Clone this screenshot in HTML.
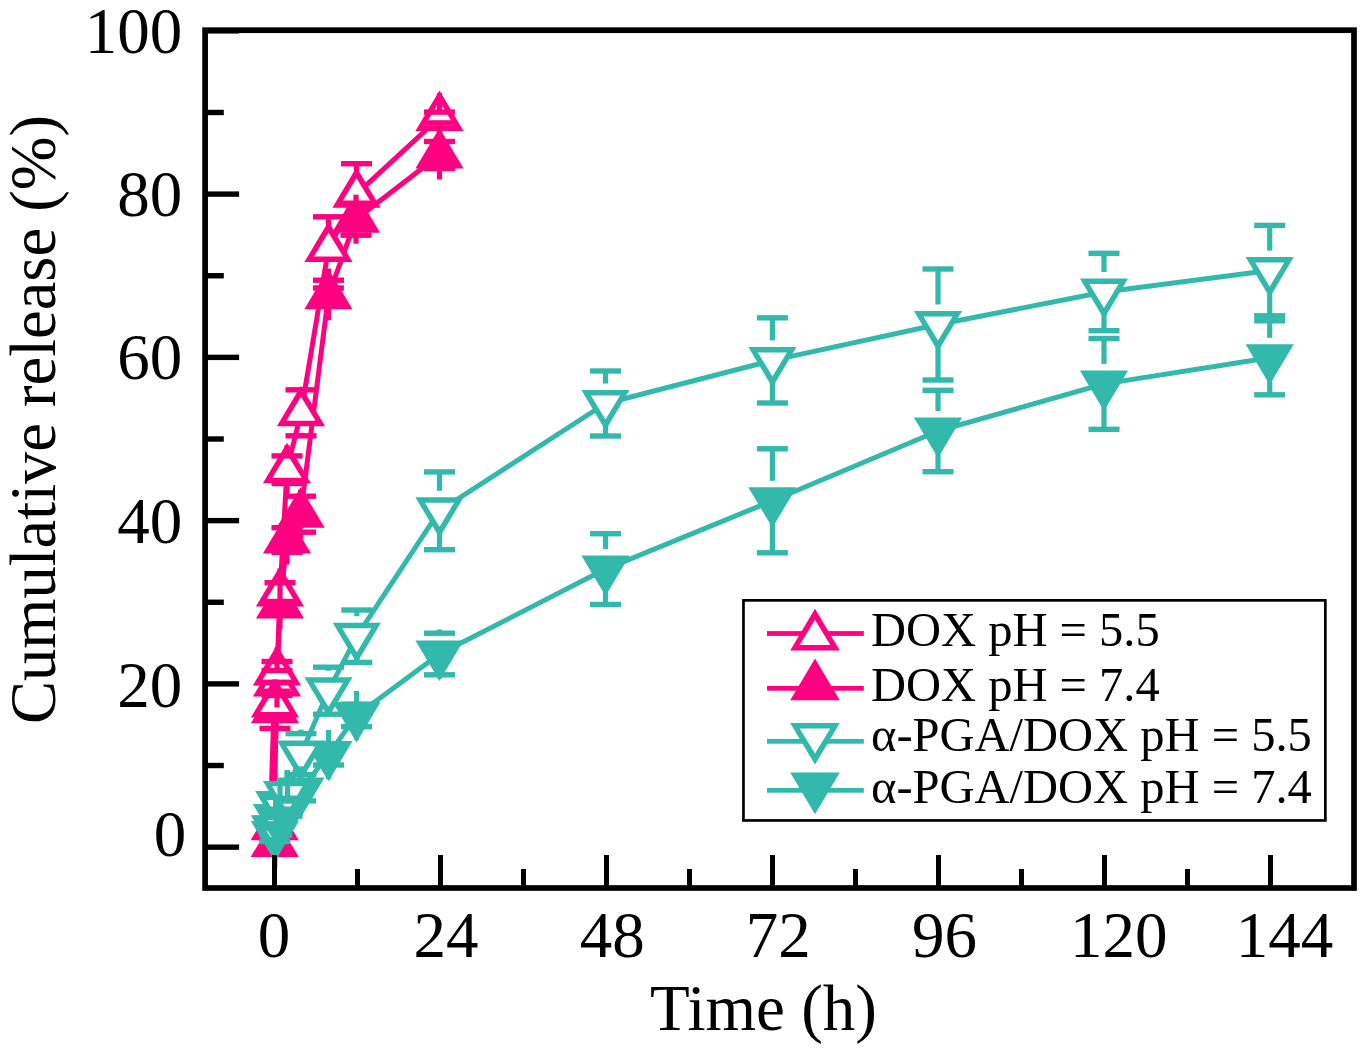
<!DOCTYPE html>
<html><head><meta charset="utf-8"><title>Cumulative release</title>
<style>
html,body{margin:0;padding:0;background:#fff;}
svg{display:block;}
text{font-family:"Liberation Serif",serif;fill:#000;}
</style></head>
<body>
<svg width="1367" height="1053" viewBox="0 0 1367 1053">
<rect width="1367" height="1053" fill="#fff"/>
<g id="data">
<polyline points="274.70,826.80 275.00,703.90 277.00,671.90 280.00,593.00 287.00,469.70 301.00,412.80 328.50,248.50 356.50,194.20 439.50,117.50" fill="none" stroke="#FF0080" stroke-width="5.0" stroke-linejoin="round" stroke-linecap="butt"/>
<polyline points="274.70,843.60 275.00,709.80 277.00,683.00 280.00,605.00 287.00,540.00 300.60,514.20 328.40,295.80 356.00,219.20 439.50,155.00" fill="none" stroke="#FF0080" stroke-width="5.0" stroke-linejoin="round" stroke-linecap="butt"/>
<polygon points="271.0,722 279.0,722 276.0,800 268.6,800" fill="#FF0080"/>
<path d="M274.70,816.60L298.80,857.10L250.60,857.10Z" fill="#FF0080"/>
<path d="M275.00,682.80L299.10,723.30L250.90,723.30Z" fill="#FF0080"/><path d="M275.00,693.80L289.57,717.80L260.43,717.80Z" fill="#fff"/>
<path d="M277.00,656.00L301.10,696.50L252.90,696.50Z" fill="#FF0080"/><path d="M277.00,667.00L291.57,691.00L262.43,691.00Z" fill="#fff"/>
<path d="M280.00,578.00L304.10,618.50L255.90,618.50Z" fill="#FF0080"/>
<path d="M287.00,513.00L311.10,553.50L262.90,553.50Z" fill="#FF0080"/>
<path d="M300.60,487.20L324.70,527.70L276.50,527.70Z" fill="#FF0080"/>
<path d="M328.40,268.80L352.50,309.30L304.30,309.30Z" fill="#FF0080"/>
<path d="M356.00,192.20L380.10,232.70L331.90,232.70Z" fill="#FF0080"/>
<path d="M439.50,128.00L463.60,168.50L415.40,168.50Z" fill="#FF0080"/>
<path d="M274.70,799.80L298.80,840.30L250.60,840.30Z" fill="#FF0080"/><path d="M274.70,810.80L289.27,834.80L260.13,834.80Z" fill="#fff"/>
<path d="M275.00,676.90L299.10,717.40L250.90,717.40Z" fill="#FF0080"/><path d="M275.00,687.90L289.57,711.90L260.43,711.90Z" fill="#fff"/>
<path d="M277.00,644.90L301.10,685.40L252.90,685.40Z" fill="#FF0080"/><path d="M277.00,655.90L291.57,679.90L262.43,679.90Z" fill="#fff"/>
<path d="M280.00,566.00L304.10,606.50L255.90,606.50Z" fill="#FF0080"/><path d="M280.00,577.00L294.57,601.00L265.43,601.00Z" fill="#fff"/>
<path d="M287.00,442.70L311.10,483.20L262.90,483.20Z" fill="#FF0080"/><path d="M287.00,453.70L301.57,477.70L272.43,477.70Z" fill="#fff"/>
<path d="M301.00,385.80L325.10,426.30L276.90,426.30Z" fill="#FF0080"/><path d="M301.00,396.80L315.57,420.80L286.43,420.80Z" fill="#fff"/>
<path d="M328.50,221.50L352.60,262.00L304.40,262.00Z" fill="#FF0080"/><path d="M328.50,232.50L343.07,256.50L313.93,256.50Z" fill="#fff"/>
<path d="M356.50,167.20L380.60,207.70L332.40,207.70Z" fill="#FF0080"/><path d="M356.50,178.20L371.07,202.20L341.93,202.20Z" fill="#fff"/>
<path d="M439.50,90.50L463.60,131.00L415.40,131.00Z" fill="#FF0080"/><path d="M439.50,101.50L454.07,125.50L424.93,125.50Z" fill="#fff"/>
<rect x="272.10" y="802.30" width="5.2" height="16.50" fill="#FF0080"/><rect x="259.20" y="816.10" width="31" height="5.4" fill="#FF0080"/><rect x="272.10" y="834.80" width="5.2" height="16.50" fill="#FF0080"/><rect x="259.20" y="832.10" width="31" height="5.4" fill="#FF0080"/>
<rect x="272.40" y="679.40" width="5.2" height="12.50" fill="#FF0080"/><rect x="259.50" y="689.20" width="31" height="5.4" fill="#FF0080"/><rect x="272.40" y="715.90" width="5.2" height="12.50" fill="#FF0080"/><rect x="259.50" y="713.20" width="31" height="5.4" fill="#FF0080"/>
<rect x="274.40" y="647.40" width="5.2" height="14.10" fill="#FF0080"/><rect x="261.50" y="658.80" width="31" height="5.4" fill="#FF0080"/><rect x="274.40" y="682.30" width="5.2" height="14.10" fill="#FF0080"/><rect x="261.50" y="679.60" width="31" height="5.4" fill="#FF0080"/>
<rect x="277.40" y="568.50" width="5.2" height="14.20" fill="#FF0080"/><rect x="264.50" y="580.00" width="31" height="5.4" fill="#FF0080"/><rect x="277.40" y="603.30" width="5.2" height="14.20" fill="#FF0080"/><rect x="264.50" y="600.60" width="31" height="5.4" fill="#FF0080"/>
<rect x="284.40" y="445.20" width="5.2" height="10.70" fill="#FF0080"/><rect x="271.50" y="453.20" width="31" height="5.4" fill="#FF0080"/><rect x="284.40" y="483.50" width="5.2" height="10.70" fill="#FF0080"/><rect x="271.50" y="480.80" width="31" height="5.4" fill="#FF0080"/>
<rect x="298.40" y="388.30" width="5.2" height="4.50" fill="#FF0080"/><rect x="285.50" y="387.10" width="31" height="5.4" fill="#FF0080"/><rect x="298.40" y="432.80" width="5.2" height="4.50" fill="#FF0080"/><rect x="285.50" y="433.10" width="31" height="5.4" fill="#FF0080"/>
<rect x="325.90" y="216.80" width="5.2" height="11.70" fill="#FF0080"/><rect x="313.00" y="214.10" width="31" height="5.4" fill="#FF0080"/><rect x="325.90" y="268.50" width="5.2" height="11.70" fill="#FF0080"/><rect x="313.00" y="277.50" width="31" height="5.4" fill="#FF0080"/>
<rect x="353.90" y="163.70" width="5.2" height="10.50" fill="#FF0080"/><rect x="341.00" y="161.00" width="31" height="5.4" fill="#FF0080"/><rect x="353.90" y="214.20" width="5.2" height="10.50" fill="#FF0080"/><rect x="341.00" y="222.00" width="31" height="5.4" fill="#FF0080"/>
<rect x="436.90" y="93.00" width="5.2" height="19.10" fill="#FF0080"/><rect x="424.00" y="109.40" width="31" height="5.4" fill="#FF0080"/><rect x="436.90" y="122.90" width="5.2" height="19.10" fill="#FF0080"/><rect x="424.00" y="120.20" width="31" height="5.4" fill="#FF0080"/>
<rect x="272.10" y="819.10" width="5.2" height="19.50" fill="#FF0080"/><rect x="259.20" y="835.90" width="31" height="5.4" fill="#FF0080"/><rect x="272.10" y="848.60" width="5.2" height="19.50" fill="#FF0080"/><rect x="259.20" y="845.90" width="31" height="5.4" fill="#FF0080"/>
<rect x="272.40" y="685.30" width="5.2" height="5.90" fill="#FF0080"/><rect x="259.50" y="688.50" width="31" height="5.4" fill="#FF0080"/><rect x="272.40" y="728.40" width="5.2" height="5.90" fill="#FF0080"/><rect x="259.50" y="725.70" width="31" height="5.4" fill="#FF0080"/>
<rect x="274.40" y="658.50" width="5.2" height="12.00" fill="#FF0080"/><rect x="261.50" y="667.80" width="31" height="5.4" fill="#FF0080"/><rect x="274.40" y="695.50" width="5.2" height="12.00" fill="#FF0080"/><rect x="261.50" y="692.80" width="31" height="5.4" fill="#FF0080"/>
<rect x="277.40" y="580.50" width="5.2" height="21.00" fill="#FF0080"/><rect x="264.50" y="598.80" width="31" height="5.4" fill="#FF0080"/><rect x="277.40" y="608.50" width="5.2" height="21.00" fill="#FF0080"/><rect x="264.50" y="605.80" width="31" height="5.4" fill="#FF0080"/>
<rect x="284.40" y="515.50" width="5.2" height="12.20" fill="#FF0080"/><rect x="271.50" y="525.00" width="31" height="5.4" fill="#FF0080"/><rect x="284.40" y="552.30" width="5.2" height="12.20" fill="#FF0080"/><rect x="271.50" y="549.60" width="31" height="5.4" fill="#FF0080"/>
<rect x="298.00" y="489.70" width="5.2" height="6.50" fill="#FF0080"/><rect x="285.10" y="493.50" width="31" height="5.4" fill="#FF0080"/><rect x="298.00" y="532.20" width="5.2" height="6.50" fill="#FF0080"/><rect x="285.10" y="529.50" width="31" height="5.4" fill="#FF0080"/>
<rect x="325.80" y="271.30" width="5.2" height="16.70" fill="#FF0080"/><rect x="312.90" y="285.30" width="31" height="5.4" fill="#FF0080"/><rect x="325.80" y="303.60" width="5.2" height="16.70" fill="#FF0080"/><rect x="312.90" y="300.90" width="31" height="5.4" fill="#FF0080"/>
<rect x="353.40" y="194.70" width="5.2" height="8.50" fill="#FF0080"/><rect x="340.50" y="200.50" width="31" height="5.4" fill="#FF0080"/><rect x="353.40" y="235.20" width="5.2" height="8.50" fill="#FF0080"/><rect x="340.50" y="232.50" width="31" height="5.4" fill="#FF0080"/>
<rect x="436.90" y="130.50" width="5.2" height="11.00" fill="#FF0080"/><rect x="424.00" y="138.80" width="31" height="5.4" fill="#FF0080"/><rect x="436.90" y="168.50" width="5.2" height="11.00" fill="#FF0080"/><rect x="424.00" y="165.80" width="31" height="5.4" fill="#FF0080"/>
<polyline points="274.90,828.80 276.80,817.40 279.20,804.60 287.00,794.60 301.00,754.10 328.50,690.70 356.80,636.20 439.50,510.80 605.50,403.50 772.40,360.40 938.00,324.50 1104.00,292.00 1269.70,270.60" fill="none" stroke="#33B9AB" stroke-width="5.0" stroke-linejoin="round" stroke-linecap="butt"/>
<polyline points="274.90,834.50 276.80,829.00 279.20,820.00 287.00,808.40 300.50,790.90 328.50,754.50 356.50,715.40 439.50,654.00 605.50,569.10 772.40,500.80 938.00,431.00 1104.00,383.90 1269.70,357.80" fill="none" stroke="#33B9AB" stroke-width="5.0" stroke-linejoin="round" stroke-linecap="butt"/>
<path d="M274.90,861.50L299.00,821.00L250.80,821.00Z" fill="#33B9AB"/>
<path d="M276.80,856.00L300.90,815.50L252.70,815.50Z" fill="#33B9AB"/>
<path d="M279.20,847.00L303.30,806.50L255.10,806.50Z" fill="#33B9AB"/>
<path d="M287.00,835.40L311.10,794.90L262.90,794.90Z" fill="#33B9AB"/>
<path d="M300.50,817.90L324.60,777.40L276.40,777.40Z" fill="#33B9AB"/>
<path d="M328.50,781.50L352.60,741.00L304.40,741.00Z" fill="#33B9AB"/>
<path d="M356.50,742.40L380.60,701.90L332.40,701.90Z" fill="#33B9AB"/>
<path d="M439.50,681.00L463.60,640.50L415.40,640.50Z" fill="#33B9AB"/>
<path d="M605.50,596.10L629.60,555.60L581.40,555.60Z" fill="#33B9AB"/>
<path d="M772.40,527.80L796.50,487.30L748.30,487.30Z" fill="#33B9AB"/>
<path d="M938.00,458.00L962.10,417.50L913.90,417.50Z" fill="#33B9AB"/>
<path d="M1104.00,410.90L1128.10,370.40L1079.90,370.40Z" fill="#33B9AB"/>
<path d="M1269.70,384.80L1293.80,344.30L1245.60,344.30Z" fill="#33B9AB"/>
<path d="M274.90,855.80L299.00,815.30L250.80,815.30Z" fill="#33B9AB"/>
<path d="M276.80,844.40L300.90,803.90L252.70,803.90Z" fill="#33B9AB"/>
<path d="M279.20,831.60L303.30,791.10L255.10,791.10Z" fill="#33B9AB"/>
<path d="M287.00,821.60L311.10,781.10L262.90,781.10Z" fill="#33B9AB"/>
<path d="M301.00,781.10L325.10,740.60L276.90,740.60Z" fill="#33B9AB"/><path d="M301.00,770.10L315.57,746.10L286.43,746.10Z" fill="#fff"/>
<path d="M328.50,717.70L352.60,677.20L304.40,677.20Z" fill="#33B9AB"/><path d="M328.50,706.70L343.07,682.70L313.93,682.70Z" fill="#fff"/>
<path d="M356.80,663.20L380.90,622.70L332.70,622.70Z" fill="#33B9AB"/><path d="M356.80,652.20L371.37,628.20L342.23,628.20Z" fill="#fff"/>
<path d="M439.50,537.80L463.60,497.30L415.40,497.30Z" fill="#33B9AB"/><path d="M439.50,526.80L454.07,502.80L424.93,502.80Z" fill="#fff"/>
<path d="M605.50,430.50L629.60,390.00L581.40,390.00Z" fill="#33B9AB"/><path d="M605.50,419.50L620.07,395.50L590.93,395.50Z" fill="#fff"/>
<path d="M772.40,387.40L796.50,346.90L748.30,346.90Z" fill="#33B9AB"/><path d="M772.40,376.40L786.97,352.40L757.83,352.40Z" fill="#fff"/>
<path d="M938.00,351.50L962.10,311.00L913.90,311.00Z" fill="#33B9AB"/><path d="M938.00,340.50L952.57,316.50L923.43,316.50Z" fill="#fff"/>
<path d="M1104.00,319.00L1128.10,278.50L1079.90,278.50Z" fill="#33B9AB"/><path d="M1104.00,308.00L1118.57,284.00L1089.43,284.00Z" fill="#fff"/>
<path d="M1269.70,297.60L1293.80,257.10L1245.60,257.10Z" fill="#33B9AB"/><path d="M1269.70,286.60L1284.27,262.60L1255.13,262.60Z" fill="#fff"/>
<rect x="272.30" y="804.30" width="5.2" height="18.50" fill="#33B9AB"/><rect x="259.40" y="820.10" width="31" height="5.4" fill="#33B9AB"/><rect x="272.30" y="834.80" width="5.2" height="18.50" fill="#33B9AB"/><rect x="259.40" y="832.10" width="31" height="5.4" fill="#33B9AB"/>
<rect x="274.20" y="792.90" width="5.2" height="18.50" fill="#33B9AB"/><rect x="261.30" y="808.70" width="31" height="5.4" fill="#33B9AB"/><rect x="274.20" y="823.40" width="5.2" height="18.50" fill="#33B9AB"/><rect x="261.30" y="820.70" width="31" height="5.4" fill="#33B9AB"/>
<rect x="276.60" y="780.10" width="5.2" height="18.50" fill="#33B9AB"/><rect x="263.70" y="795.90" width="31" height="5.4" fill="#33B9AB"/><rect x="276.60" y="810.60" width="5.2" height="18.50" fill="#33B9AB"/><rect x="263.70" y="807.90" width="31" height="5.4" fill="#33B9AB"/>
<rect x="284.40" y="770.10" width="5.2" height="16.50" fill="#33B9AB"/><rect x="271.50" y="783.90" width="31" height="5.4" fill="#33B9AB"/><rect x="284.40" y="802.60" width="5.2" height="16.50" fill="#33B9AB"/><rect x="271.50" y="799.90" width="31" height="5.4" fill="#33B9AB"/>
<rect x="298.40" y="729.60" width="5.2" height="4.50" fill="#33B9AB"/><rect x="285.50" y="730.90" width="31" height="5.4" fill="#33B9AB"/><rect x="298.40" y="774.10" width="5.2" height="4.50" fill="#33B9AB"/><rect x="285.50" y="771.90" width="31" height="5.4" fill="#33B9AB"/>
<rect x="325.90" y="666.20" width="5.2" height="4.50" fill="#33B9AB"/><rect x="313.00" y="664.50" width="31" height="5.4" fill="#33B9AB"/><rect x="325.90" y="710.70" width="5.2" height="4.50" fill="#33B9AB"/><rect x="313.00" y="711.50" width="31" height="5.4" fill="#33B9AB"/>
<rect x="354.20" y="610.00" width="5.2" height="6.20" fill="#33B9AB"/><rect x="341.30" y="607.30" width="31" height="5.4" fill="#33B9AB"/><rect x="354.20" y="656.20" width="5.2" height="6.20" fill="#33B9AB"/><rect x="341.30" y="659.70" width="31" height="5.4" fill="#33B9AB"/>
<rect x="436.90" y="471.90" width="5.2" height="18.90" fill="#33B9AB"/><rect x="424.00" y="469.20" width="31" height="5.4" fill="#33B9AB"/><rect x="436.90" y="530.80" width="5.2" height="18.90" fill="#33B9AB"/><rect x="424.00" y="547.00" width="31" height="5.4" fill="#33B9AB"/>
<rect x="602.90" y="371.00" width="5.2" height="12.50" fill="#33B9AB"/><rect x="590.00" y="368.30" width="31" height="5.4" fill="#33B9AB"/><rect x="602.90" y="423.50" width="5.2" height="12.50" fill="#33B9AB"/><rect x="590.00" y="433.30" width="31" height="5.4" fill="#33B9AB"/>
<rect x="769.80" y="317.80" width="5.2" height="22.60" fill="#33B9AB"/><rect x="756.90" y="315.10" width="31" height="5.4" fill="#33B9AB"/><rect x="769.80" y="380.40" width="5.2" height="22.60" fill="#33B9AB"/><rect x="756.90" y="400.30" width="31" height="5.4" fill="#33B9AB"/>
<rect x="935.40" y="269.00" width="5.2" height="35.50" fill="#33B9AB"/><rect x="922.50" y="266.30" width="31" height="5.4" fill="#33B9AB"/><rect x="935.40" y="344.50" width="5.2" height="35.50" fill="#33B9AB"/><rect x="922.50" y="377.30" width="31" height="5.4" fill="#33B9AB"/>
<rect x="1101.40" y="253.30" width="5.2" height="18.70" fill="#33B9AB"/><rect x="1088.50" y="250.60" width="31" height="5.4" fill="#33B9AB"/><rect x="1101.40" y="312.00" width="5.2" height="18.70" fill="#33B9AB"/><rect x="1088.50" y="328.00" width="31" height="5.4" fill="#33B9AB"/>
<rect x="1267.10" y="225.40" width="5.2" height="25.20" fill="#33B9AB"/><rect x="1254.20" y="222.70" width="31" height="5.4" fill="#33B9AB"/><rect x="1267.10" y="290.60" width="5.2" height="25.20" fill="#33B9AB"/><rect x="1254.20" y="313.10" width="31" height="5.4" fill="#33B9AB"/>
<rect x="272.30" y="810.00" width="5.2" height="17.50" fill="#33B9AB"/><rect x="259.40" y="824.80" width="31" height="5.4" fill="#33B9AB"/><rect x="272.30" y="841.50" width="5.2" height="17.50" fill="#33B9AB"/><rect x="259.40" y="838.80" width="31" height="5.4" fill="#33B9AB"/>
<rect x="274.20" y="804.50" width="5.2" height="18.50" fill="#33B9AB"/><rect x="261.30" y="820.30" width="31" height="5.4" fill="#33B9AB"/><rect x="274.20" y="835.00" width="5.2" height="18.50" fill="#33B9AB"/><rect x="261.30" y="832.30" width="31" height="5.4" fill="#33B9AB"/>
<rect x="276.60" y="795.50" width="5.2" height="18.50" fill="#33B9AB"/><rect x="263.70" y="811.30" width="31" height="5.4" fill="#33B9AB"/><rect x="276.60" y="826.00" width="5.2" height="18.50" fill="#33B9AB"/><rect x="263.70" y="823.30" width="31" height="5.4" fill="#33B9AB"/>
<rect x="284.40" y="783.90" width="5.2" height="16.50" fill="#33B9AB"/><rect x="271.50" y="797.70" width="31" height="5.4" fill="#33B9AB"/><rect x="284.40" y="816.40" width="5.2" height="16.50" fill="#33B9AB"/><rect x="271.50" y="813.70" width="31" height="5.4" fill="#33B9AB"/>
<rect x="297.90" y="766.40" width="5.2" height="14.50" fill="#33B9AB"/><rect x="285.00" y="778.20" width="31" height="5.4" fill="#33B9AB"/><rect x="297.90" y="800.90" width="5.2" height="14.50" fill="#33B9AB"/><rect x="285.00" y="798.20" width="31" height="5.4" fill="#33B9AB"/>
<rect x="325.90" y="730.00" width="5.2" height="14.00" fill="#33B9AB"/><rect x="313.00" y="741.30" width="31" height="5.4" fill="#33B9AB"/><rect x="325.90" y="765.00" width="5.2" height="14.00" fill="#33B9AB"/><rect x="313.00" y="762.30" width="31" height="5.4" fill="#33B9AB"/>
<rect x="353.90" y="690.90" width="5.2" height="13.20" fill="#33B9AB"/><rect x="341.00" y="701.40" width="31" height="5.4" fill="#33B9AB"/><rect x="353.90" y="726.70" width="5.2" height="13.20" fill="#33B9AB"/><rect x="341.00" y="724.00" width="31" height="5.4" fill="#33B9AB"/>
<rect x="436.90" y="629.50" width="5.2" height="4.50" fill="#33B9AB"/><rect x="424.00" y="630.50" width="31" height="5.4" fill="#33B9AB"/><rect x="436.90" y="674.00" width="5.2" height="4.50" fill="#33B9AB"/><rect x="424.00" y="672.10" width="31" height="5.4" fill="#33B9AB"/>
<rect x="602.90" y="533.70" width="5.2" height="15.40" fill="#33B9AB"/><rect x="590.00" y="531.00" width="31" height="5.4" fill="#33B9AB"/><rect x="602.90" y="589.10" width="5.2" height="15.40" fill="#33B9AB"/><rect x="590.00" y="601.80" width="31" height="5.4" fill="#33B9AB"/>
<rect x="769.80" y="448.80" width="5.2" height="32.00" fill="#33B9AB"/><rect x="756.90" y="446.10" width="31" height="5.4" fill="#33B9AB"/><rect x="769.80" y="520.80" width="5.2" height="32.00" fill="#33B9AB"/><rect x="756.90" y="550.10" width="31" height="5.4" fill="#33B9AB"/>
<rect x="935.40" y="390.30" width="5.2" height="20.70" fill="#33B9AB"/><rect x="922.50" y="387.60" width="31" height="5.4" fill="#33B9AB"/><rect x="935.40" y="451.00" width="5.2" height="20.70" fill="#33B9AB"/><rect x="922.50" y="469.00" width="31" height="5.4" fill="#33B9AB"/>
<rect x="1101.40" y="338.50" width="5.2" height="25.40" fill="#33B9AB"/><rect x="1088.50" y="335.80" width="31" height="5.4" fill="#33B9AB"/><rect x="1101.40" y="403.90" width="5.2" height="25.40" fill="#33B9AB"/><rect x="1088.50" y="426.60" width="31" height="5.4" fill="#33B9AB"/>
<rect x="1267.10" y="320.80" width="5.2" height="17.00" fill="#33B9AB"/><rect x="1254.20" y="318.10" width="31" height="5.4" fill="#33B9AB"/><rect x="1267.10" y="377.80" width="5.2" height="17.00" fill="#33B9AB"/><rect x="1254.20" y="392.10" width="31" height="5.4" fill="#33B9AB"/>
<polygon points="272.1,786.2 302.5,786.2 297.0,795.5 277.6,795.5" fill="#fff"/>
<polygon points="283.0,803.7 292.0,803.7 290.5,806.6 284.5,806.6" fill="#fff"/>
<polygon points="266.9,800.0 273.0,800.0 273.0,806.6 270.6,806.6" fill="#fff"/>
<polygon points="266.4,830.8 267.6,830.8 271.8,837.0 270.6,837.0" fill="#fff"/>
<polygon points="268.6,820.0 273.2,820.0 273.2,821.1 268.6,821.1" fill="#fff"/>
<rect x="277.45" y="785.50" width="5.2" height="11.00" fill="#33B9AB"/>
<rect x="284.95" y="770.00" width="5.2" height="27.00" fill="#33B9AB"/>
</g>
<g id="axes">
<rect x="205.1" y="30.2" width="1148.90" height="857.80" fill="none" stroke="#000" stroke-width="5.7" stroke-linejoin="miter"/>
<rect x="205.10" y="844.45" width="34" height="5.4" fill="#000"/>
<rect x="205.10" y="762.82" width="18.7" height="5.4" fill="#000"/>
<rect x="205.10" y="681.19" width="34" height="5.4" fill="#000"/>
<rect x="205.10" y="599.56" width="18.7" height="5.4" fill="#000"/>
<rect x="205.10" y="517.93" width="34" height="5.4" fill="#000"/>
<rect x="205.10" y="436.30" width="18.7" height="5.4" fill="#000"/>
<rect x="205.10" y="354.67" width="34" height="5.4" fill="#000"/>
<rect x="205.10" y="273.04" width="18.7" height="5.4" fill="#000"/>
<rect x="205.10" y="191.41" width="34" height="5.4" fill="#000"/>
<rect x="205.10" y="109.78" width="18.7" height="5.4" fill="#000"/>
<rect x="205.10" y="28.15" width="34" height="5.4" fill="#000"/>
<rect x="272.00" y="855.00" width="5.0" height="33" fill="#000"/>
<rect x="355.00" y="869.00" width="5.0" height="19" fill="#000"/>
<rect x="438.00" y="855.00" width="5.0" height="33" fill="#000"/>
<rect x="521.00" y="869.00" width="5.0" height="19" fill="#000"/>
<rect x="604.00" y="855.00" width="5.0" height="33" fill="#000"/>
<rect x="687.00" y="869.00" width="5.0" height="19" fill="#000"/>
<rect x="770.00" y="855.00" width="5.0" height="33" fill="#000"/>
<rect x="853.00" y="869.00" width="5.0" height="19" fill="#000"/>
<rect x="936.00" y="855.00" width="5.0" height="33" fill="#000"/>
<rect x="1019.00" y="869.00" width="5.0" height="19" fill="#000"/>
<rect x="1102.00" y="855.00" width="5.0" height="33" fill="#000"/>
<rect x="1185.00" y="869.00" width="5.0" height="19" fill="#000"/>
<rect x="1268.00" y="855.00" width="5.0" height="33" fill="#000"/>
</g>
<g id="ticklabels" font-size="65">
<text x="182.3" y="52.5" text-anchor="end">100</text>
<text x="182.3" y="215.5" text-anchor="end">80</text>
<text x="182.3" y="379.2" text-anchor="end">60</text>
<text x="182.3" y="542.7" text-anchor="end">40</text>
<text x="182.3" y="706.8" text-anchor="end">20</text>
<text x="186.3" y="855.9" text-anchor="end">0</text>
<text x="257.75" y="957.1">0</text>
<text x="413.40000000000003" y="957.1">24</text>
<text x="579.85" y="957.1">48</text>
<text x="745.65" y="957.1">72</text>
<text x="912.1" y="957.1">96</text>
<text x="1070.1000000000001" y="957.1">120</text>
<text x="1235.6499999999999" y="957.1">144</text>
</g>
<text x="650" y="1030.3" font-size="65">Time (h)</text>
<text transform="translate(54.9,724) rotate(-90)" font-size="64.5">Cumulative release (%)</text>
<g id="legend">
<rect x="743.45" y="600.35" width="581.9" height="220.1" fill="#fff" stroke="#000" stroke-width="2.7"/>
<rect x="767" y="631.10" width="96.8" height="4.8" fill="#FF0080"/>
<path d="M815.00,608.69L839.82,650.40L790.18,650.40Z" fill="#FF0080"/><path d="M815.00,619.69L830.30,644.90L799.70,644.90Z" fill="#fff"/>
<text x="871" y="646.3" font-size="48.5">DOX pH = 5.5</text>
<rect x="767" y="685.90" width="96.8" height="4.8" fill="#FF0080"/>
<path d="M815.00,658.59L839.82,700.30L790.18,700.30Z" fill="#FF0080"/>
<text x="871" y="701.3" font-size="48.5">DOX pH = 7.4</text>
<rect x="767" y="738.90" width="96.8" height="4.8" fill="#33B9AB"/>
<path d="M815.00,764.61L839.82,722.89L790.18,722.89Z" fill="#33B9AB"/><path d="M815.00,753.61L830.30,728.39L799.70,728.39Z" fill="#fff"/>
<text x="871" y="750.7" font-size="48.5">α-PGA/DOX pH = 5.5</text>
<rect x="767" y="787.90" width="96.8" height="4.8" fill="#33B9AB"/>
<path d="M815.00,814.21L839.82,772.50L790.18,772.50Z" fill="#33B9AB"/>
<text x="871" y="803.0" font-size="48.5">α-PGA/DOX pH = 7.4</text>
</g>
</svg>
</body></html>
